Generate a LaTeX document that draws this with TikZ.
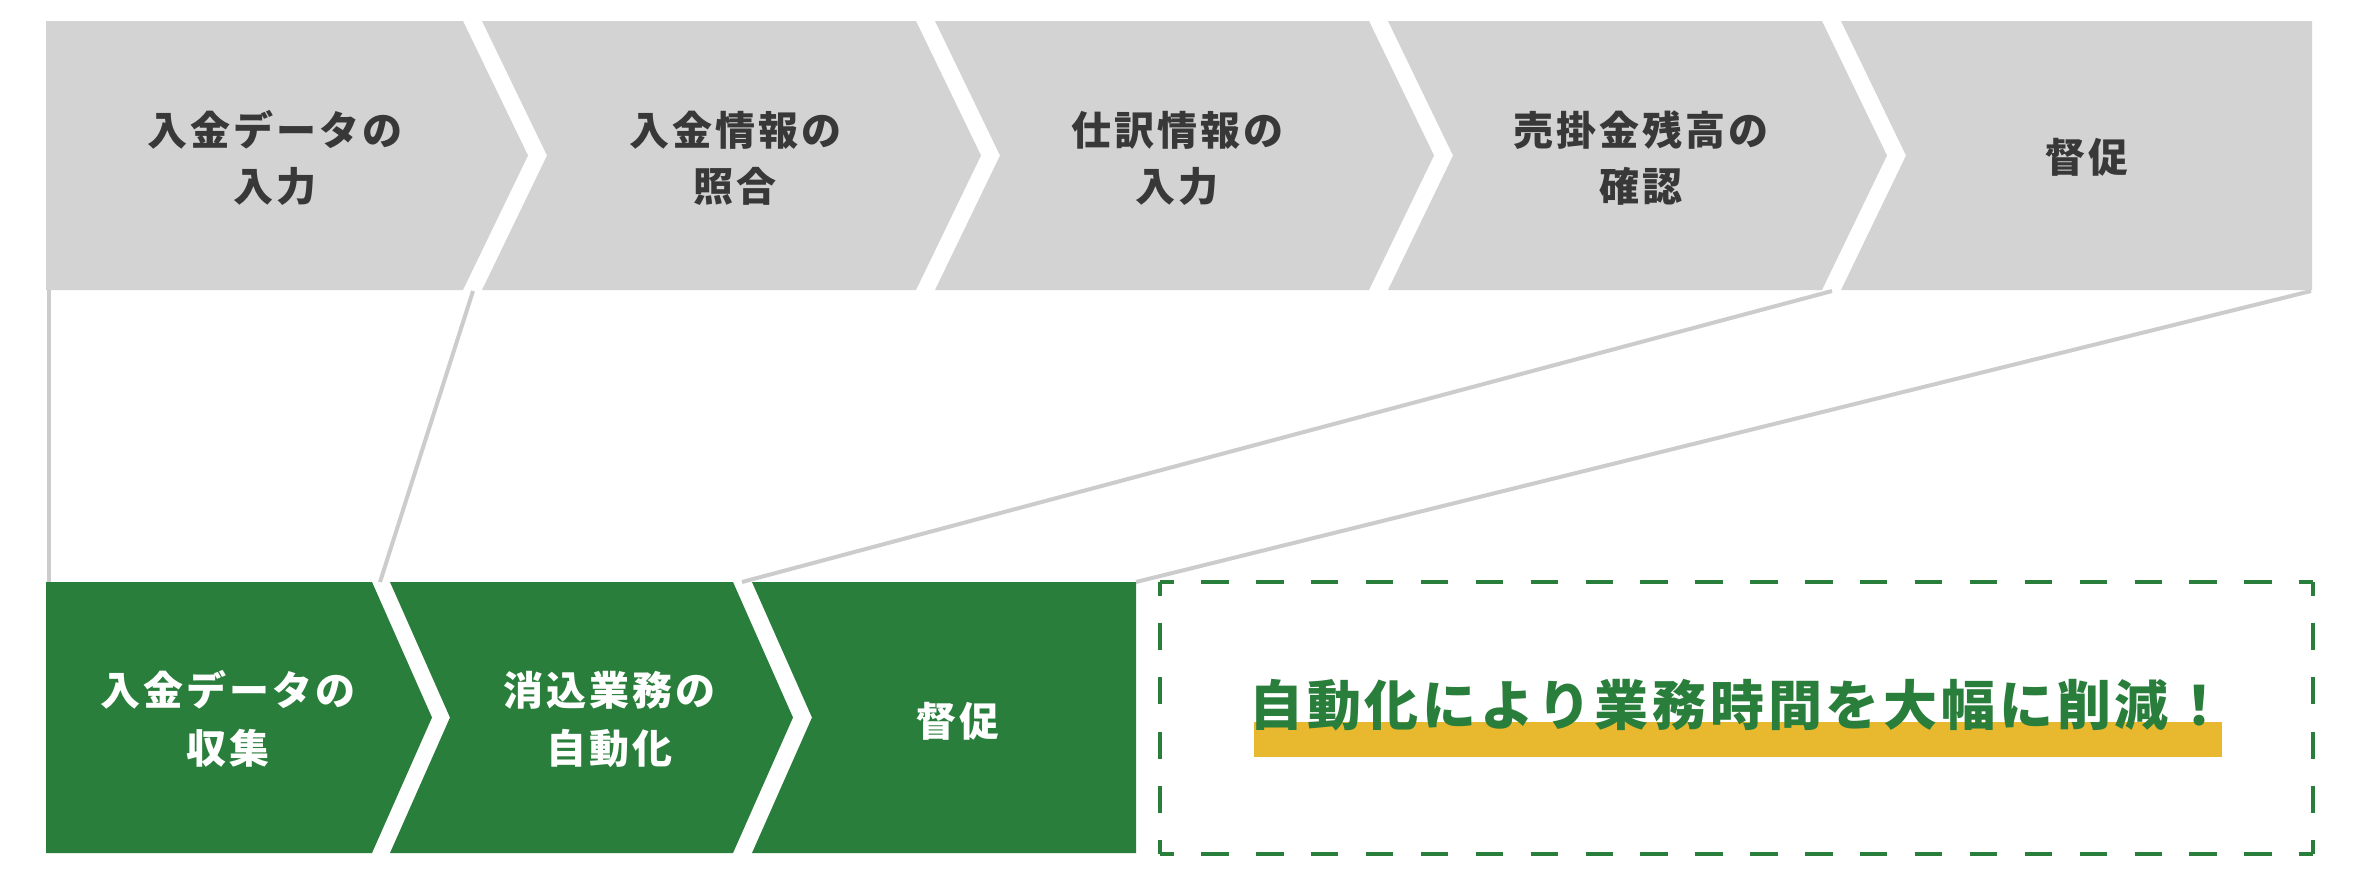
\documentclass[tikz,border=0pt]{standalone}
\usepackage{fontspec}
\newfontfamily\jp{Noto Sans CJK JP}[LetterSpace=7.5]
\newfontfamily\jpbig{Noto Sans CJK JP}[LetterSpace=7]
\definecolor{greybox}{HTML}{D3D3D3}
\definecolor{darktext}{HTML}{383838}
\definecolor{greenbox}{HTML}{2A7E3B}
\definecolor{yellowbar}{HTML}{E8B92F}
\definecolor{funnel}{HTML}{CCCCCC}
\begin{document}
\begin{tikzpicture}[x=1pt,y=-1pt,
  toplabel/.style={text=darktext,align=center,inner sep=0pt,font={\jp\bfseries\fontsize{40}{56}\selectfont}},
  greenlabel/.style={text=white,align=center,inner sep=0pt,font={\jp\bfseries\fontsize{40}{58}\selectfont}},
  funnelline/.style={draw=funnel,line width=4pt},
  dashside/.style={draw=greenbox,line width=4pt}]
\useasboundingbox (0,0) rectangle (2360,884);
\fill[white] (0,0) rectangle (2360,884);
% funnel connector endpoints
\coordinate (t0) at (48.5,290);
\coordinate (b0) at (48.5,582);
\coordinate (t1) at (473,291);
\coordinate (b1) at (380,582);
\coordinate (t2) at (1832,291);
\coordinate (b2) at (742,582);
\coordinate (t3) at (2311,291);
\coordinate (b3) at (1136,582);
\draw[funnelline] (t0) -- (b0);
\draw[funnelline] (t1) -- (b1);
\draw[funnelline] (t2) -- (b2);
\draw[funnelline] (t3) -- (b3);
% top chevrons
\fill[greybox] (46,21) -- (463,21) -- (528,155.5) -- (463,290) -- (46,290) -- cycle;
\foreach \i in {1,2,3}{
  \pgfmathsetmacro\L{482+453*(\i-1)}
  \pgfmathsetmacro\R{463+453*\i}
  \fill[greybox] (\L,21) -- (\R,21) -- (\R+65,155.5) -- (\R,290) -- (\L,290) -- (\L+65,155.5) -- cycle;
}
\fill[greybox] (1841,21) -- (2312,21) -- (2312,290) -- (1841,290) -- (1906,155.5) -- cycle;
\node[toplabel] (s1) at (275,158) {入金データの\\入力};
\node[toplabel] (s2) at (735,158) {入金情報の\\照合};
\node[toplabel] (s3) at (1177,158) {仕訳情報の\\入力};
\node[toplabel] (s4) at (1641,158) {売掛金残高の\\確認};
\node[toplabel] (s5) at (2087,157) {督促};
% green chevrons
\fill[greenbox] (46,582) -- (372,582) -- (432,717.5) -- (372,853) -- (46,853) -- cycle;
\fill[greenbox] (390,582) -- (733,582) -- (793,717.5) -- (733,853) -- (390,853) -- (450,717.5) -- cycle;
\fill[greenbox] (752,582) -- (1136,582) -- (1136,853) -- (752,853) -- (812,717.5) -- cycle;
\node[greenlabel] (g1) at (228,719) {入金データの\\収集};
\node[greenlabel] (g2) at (609,719) {消込業務の\\自動化};
\node[greenlabel] (g3) at (958,721) {督促};
% dashed result box
\coordinate (d1) at (1160,582);
\coordinate (d2) at (2313,582);
\coordinate (d3) at (2313,854);
\coordinate (d4) at (1160,854);
\draw[dashside,dash pattern=on 27.45pt off 27.45pt,dash phase=13.72pt] (d1) -- (d2);
\draw[dashside,dash pattern=on 27.45pt off 27.45pt,dash phase=13.72pt] (d4) -- (d3);
\draw[dashside,dash pattern=on 27.2pt off 27.2pt,dash phase=13.6pt] (d1) -- (d4);
\draw[dashside,dash pattern=on 27.2pt off 27.2pt,dash phase=13.6pt] (d2) -- (d3);
\fill[yellowbar] (1254,722) rectangle (2222,757);
\node[text=greenbox,inner sep=0pt,font={\jpbig\bfseries\fontsize{54}{60}\selectfont}] (res) at (1738,705) {自動化により業務時間を大幅に削減！};
\end{tikzpicture}
\end{document}
